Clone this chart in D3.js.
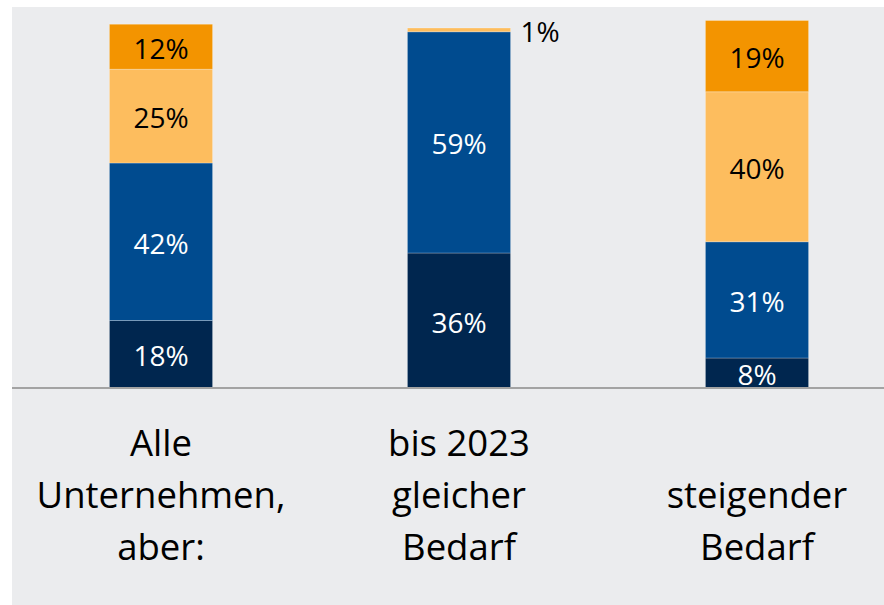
<!DOCTYPE html>
<meta charset="utf-8">
<style>
body { margin: 0; background: #fff; }
.pct { font: 28px "Open Sans", sans-serif; }
.cat { font: 36.5px "Open Sans", sans-serif; fill: #000; }
</style>
<svg width="884" height="605"></svg>
<script src="https://d3js.org/d3.v7.min.js"></script>
<script>

// categories (each label line separate) and stacked shares, bottom to top
var categories = ["alle", "gleich", "steigend"];
var catLabels = [["Alle", "Unternehmen,", "aber:"], ["bis 2023", "gleicher", "Bedarf"], ["steigender", "Bedarf"]];
var seriesNames = ["s1", "s2", "s3", "s4"];
var s1 = [18, 36, 8];
var s2 = [42, 59, 31];
var s3 = [25, 1, 40];
var s4 = [12, 0, 19];

var colors = ["#00264f", "#004b8f", "#fdbd5e", "#f39400"];
var textColors = ["#fff", "#fff", "#000", "#000"];

var svg = d3.select("svg"),
    width = +svg.attr("width"),
    height = +svg.attr("height");

svg.append("rect")
    .attr("x", 12).attr("y", 7)
    .attr("width", width - 12).attr("height", height - 7)
    .attr("fill", "#ebecee");

var x = d3.scaleBand()
    .domain(categories)
    .range([12, 906])
    .paddingInner(0.654)
    .paddingOuter(0.327);

var y = d3.scaleLinear()
    .domain([0, 100])
    .range([388, 13]);

var table = categories.map(function(c, i) {
  return { cat: c, s1: s1[i], s2: s2[i], s3: s3[i], s4: s4[i] };
});

var stacked = d3.stack().keys(seriesNames)(table);

var layer = svg.append("g").selectAll("g")
  .data(stacked)
  .enter().append("g")
    .attr("fill", function(d, i) { return colors[i]; });

layer.selectAll("rect")
  .data(function(d) { return d; })
  .enter().filter(function(d) { return d[1] - d[0] > 0; }).append("rect")
    .attr("x", function(d) { return x(d.data.cat); })
    .attr("y", function(d) { return y(d[1]); })
    .attr("width", x.bandwidth())
    .attr("height", function(d) { return y(d[0]) - y(d[1]); })
    .attr("stroke", "#ffffff")
    .attr("stroke-opacity", 0.25)
    .attr("stroke-width", 1);

// value labels
layer.each(function(series, si) {
  d3.select(this).selectAll("text")
    .data(series.filter(function(d) { return d[1] - d[0] > 0; }))
    .enter().append("text")
      .attr("class", "pct")
      .attr("fill", function(d) { return (d[1] - d[0]) < 3 ? "#000" : textColors[si]; })
      .attr("text-anchor", function(d) { return (d[1] - d[0]) < 3 ? "start" : "middle"; })
      .attr("dominant-baseline", "central")
      .attr("x", function(d) {
        return (d[1] - d[0]) < 3 ? x(d.data.cat) + x.bandwidth() + 10 : x(d.data.cat) + x.bandwidth() / 2;
      })
      .attr("y", function(d) {
        return (d[1] - d[0]) < 3 ? y(d[1]) + 3 : (y(d[0]) + y(d[1])) / 2 + 1;
      })
      .text(function(d) { return (d[1] - d[0]) + "%"; });
});

// baseline
svg.append("line")
    .attr("x1", 12).attr("x2", width)
    .attr("y1", y(0)).attr("y2", y(0))
    .attr("stroke", "#a3a3a3")
    .attr("stroke-width", 2);

// category labels, bottom aligned
var lineH = 52, lastBase = 560;
categories.forEach(function(c, i) {
  var lines = catLabels[i];
  var t = svg.append("text")
      .attr("class", "cat")
      .attr("text-anchor", "middle");
  lines.forEach(function(l, j) {
    t.append("tspan")
      .attr("x", x(c) + x.bandwidth() / 2)
      .attr("y", lastBase - (lines.length - 1 - j) * lineH)
      .text(l);
  });
});

</script>
